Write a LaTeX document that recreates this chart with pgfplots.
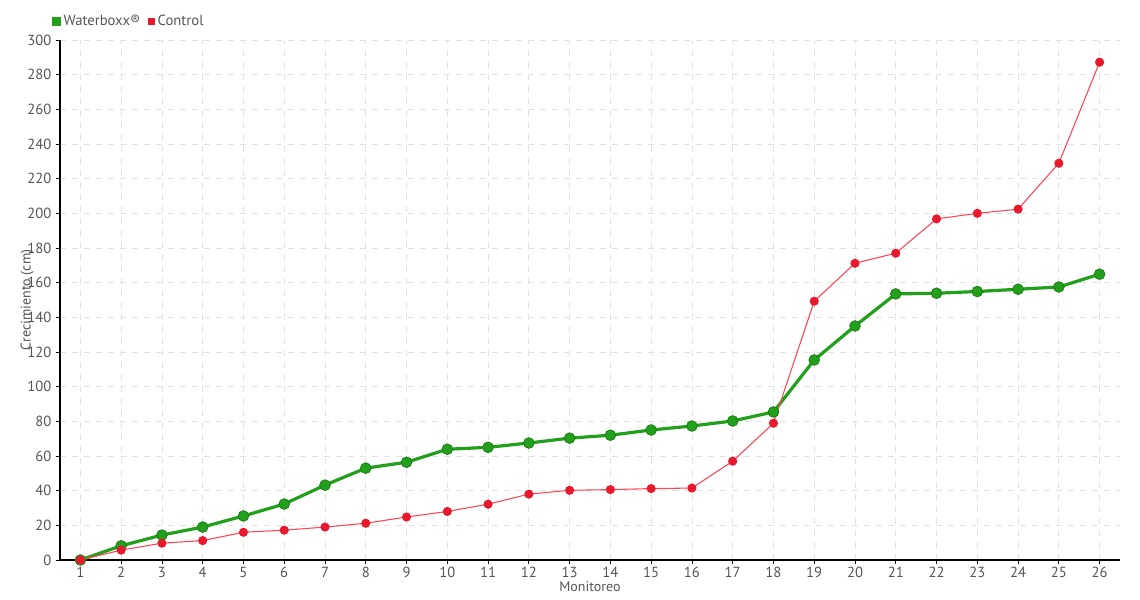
\documentclass[border=0pt]{standalone}
\usepackage{pgfplots}
\pgfplotsset{compat=1.18}
\usepackage{fontspec}
\setmainfont{PT Sans}
\definecolor{wgreen}{HTML}{22A01C}
\definecolor{wgreendark}{HTML}{1A7F16}
\definecolor{cred}{HTML}{E8192C}
\definecolor{credline}{HTML}{FF4556}
\definecolor{txtgray}{HTML}{555555}
\definecolor{gridgray}{HTML}{E2E2E2}
\begin{document}
\begin{tikzpicture}
\useasboundingbox (-45pt,-30pt) rectangle (810pt,420pt);
\begin{axis}[
  scale only axis,
  width=795pt, height=390pt,
  xmin=0.5, xmax=26.5,
  ymin=0, ymax=300,
  xtick={1,...,26},
  ytick={0,20,...,300},
  axis x line*=bottom,
  axis y line*=left,
  axis line style={black, line width=0.8pt},
  tick align=outside,
  major tick length=3pt,
  tick style={black, line width=0.6pt},
  grid=major,
  major grid style={gridgray, dash pattern=on 4.5pt off 4.5pt, line width=0.6pt},
  /pgf/number format/assume math mode=true,
  ticklabel style={font=\fontsize{11}{12}\selectfont, text=txtgray},
  xticklabel style={yshift=1pt},
  xlabel={Monitoreo},
  ylabel={Crecimiento (cm)},
  label style={font=\fontsize{10.5}{12}\selectfont, text=txtgray},
  xlabel style={at={(0.5,0)}, anchor=north, yshift=-12.5pt},
  ylabel style={at={(-0.031,0.5)}, anchor=center},
  legend columns=2,
  legend style={draw=none, fill=none, at={(-9pt,1)}, anchor=west, yshift=14pt,
    font=\fontsize{11}{12}\selectfont, text=txtgray,
    /tikz/every even column/.append style={column sep=4pt}},
  legend cell align=left,
]
\addplot[wgreen, line width=2.4pt, mark=*, mark size=4pt,
  mark options={fill=wgreen, draw=wgreendark, line width=0.6pt},
  legend image code/.code={\fill[wgreen] (0pt,-2.1pt) rectangle (4.2pt,2.1pt);}]
coordinates {
(1,0) (2,8.2) (3,14.4) (4,19) (5,25.4) (6,32.3) (7,43.2) (8,53) (9,56.4)
(10,63.9) (11,65) (12,67.5) (13,70.3) (14,72) (15,75) (16,77.3) (17,80.2)
(18,85.4) (19,115.4) (20,135) (21,153.5) (22,153.9) (23,154.9) (24,156.2)
(25,157.5) (26,164.9)
};
\addlegendentry{Waterboxx®}
\addplot[credline, line width=0.8pt, mark=*, mark size=3pt,
  mark options={fill=cred, draw=cred},
  legend image code/.code={\fill[cred] (0pt,-2.1pt) rectangle (4.2pt,2.1pt);}]
coordinates {
(1,0) (2,5.7) (3,9.7) (4,11.2) (5,16) (6,17.2) (7,19) (8,21.2) (9,24.8)
(10,28) (11,32.2) (12,38) (13,40.2) (14,40.6) (15,41.2) (16,41.5) (17,57)
(18,78.9) (19,149.3) (20,171.2) (21,177) (22,196.8) (23,200) (24,202.4)
(25,228.9) (26,287.2)
};
\addlegendentry{Control}
\end{axis}
\end{tikzpicture}
\end{document}
